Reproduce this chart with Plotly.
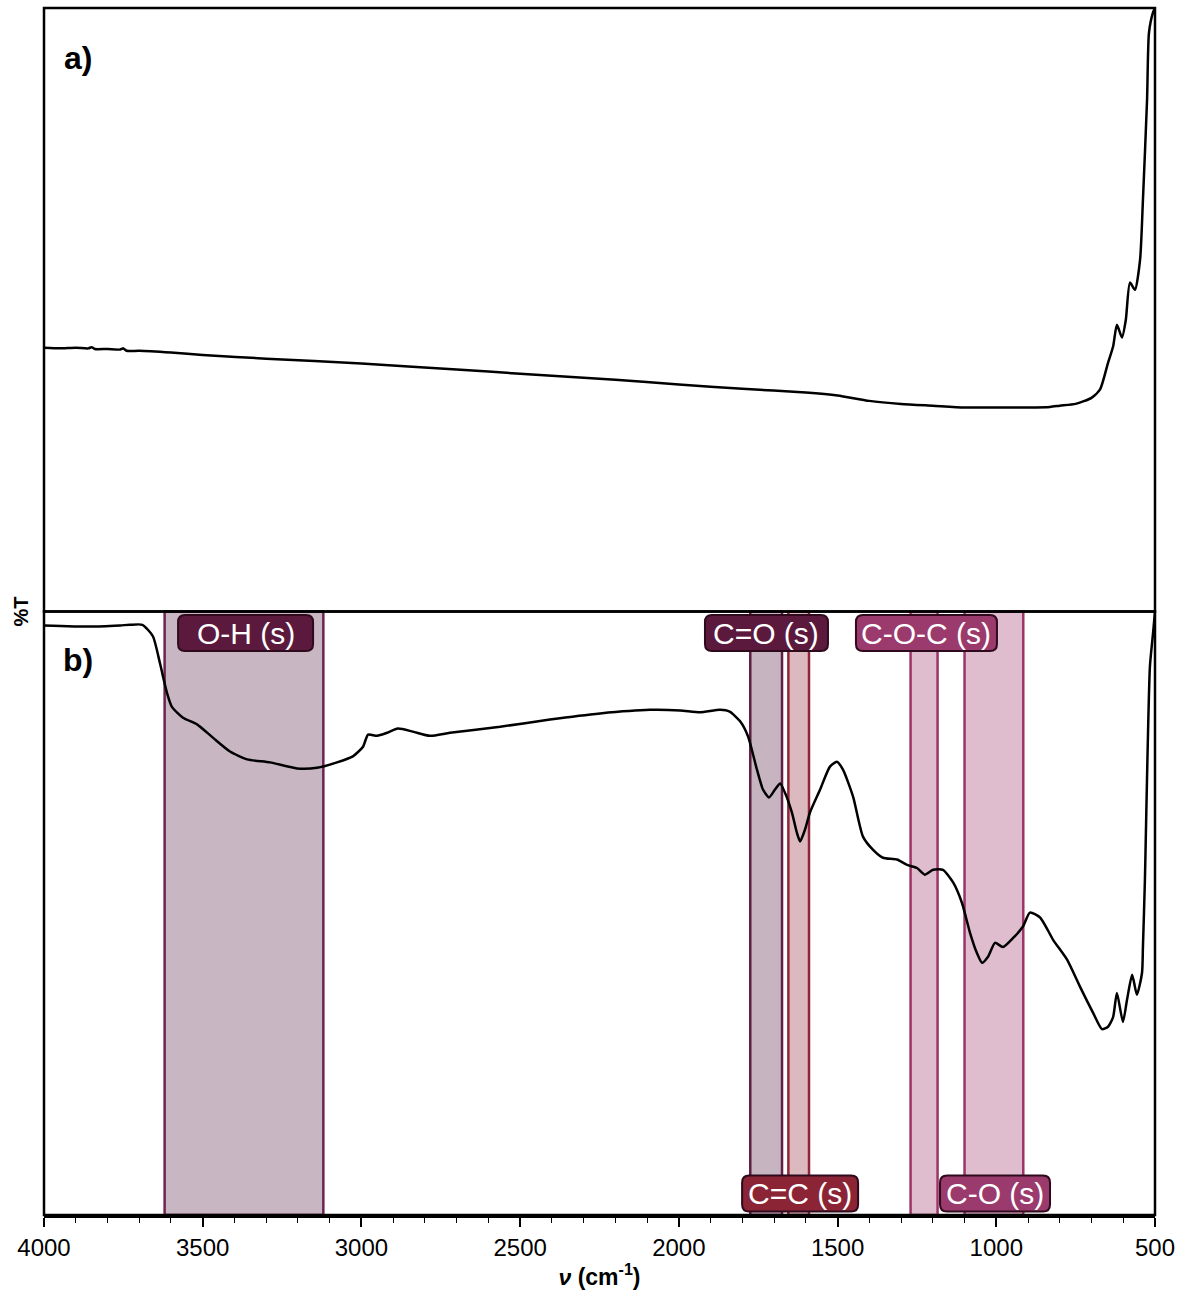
import plotly.graph_objects as go

# ---------------- data ----------------
# panel a) spectrum
wn_a = [4000, 3950, 3900, 3860, 3850, 3840, 3800, 3760, 3750, 3740, 3700, 3600, 3500, 3300, 3000,
        2700, 2500, 2200, 2000, 1800, 1600, 1500, 1400, 1300, 1200, 1100, 1000,
        900, 831, 800, 750, 700, 673, 648, 632, 620, 604, 592, 579, 563, 547,
        538, 525, 519, 506, 500]
t_a = [43.7, 43.6, 43.7, 43.6, 43.8, 43.5, 43.5, 43.4, 43.6, 43.2, 43.2, 42.9, 42.5, 41.9, 41.1,
       40.1, 39.4, 38.4, 37.6, 36.9, 36.3, 35.8, 34.9, 34.4, 34.1, 33.8, 33.8,
       33.8, 33.9, 34.1, 34.4, 35.4, 36.8, 41.2, 43.9, 47.5, 45.4, 48.3, 54.5, 53.3, 58.3,
       68.2, 84.8, 95.9, 99.3, 100.0]

# panel b) spectrum
wn_b = [4000, 3850, 3760, 3729, 3690, 3657, 3635, 3613, 3597, 3562, 3518, 3468, 3414,
        3360, 3288, 3203, 3140, 3077, 3027, 2995, 2979, 2951, 2919, 2885, 2838, 2784,
        2721, 2563, 2406, 2248, 2091, 1996, 1933, 1870, 1840, 1807, 1782, 1754, 1735,
        1716, 1697, 1681, 1666, 1644, 1628, 1618, 1603, 1587, 1555, 1524, 1502, 1483,
        1451, 1420, 1388, 1357, 1313, 1281, 1250, 1225, 1199, 1168, 1136, 1108, 1083,
        1061, 1045, 1026, 1004, 979, 947, 916, 894, 862, 821, 777, 736, 695, 667, 648,
        632, 620, 601, 588, 572, 557, 541, 538, 532, 516, 506, 500]
t_b = [97.7, 97.5, 97.7, 97.8, 97.8, 95.9, 91.5, 86.6, 84.2, 82.4, 81.3, 79.1, 76.8,
       75.5, 75.0, 74.0, 74.1, 75.0, 76.0, 77.6, 79.6, 79.4, 79.9, 80.6, 80.1, 79.4,
       79.9, 80.9, 82.1, 83.1, 83.7, 83.6, 83.3, 83.7, 83.4, 81.8, 79.3, 73.8, 70.5,
       69.2, 70.5, 71.5, 70.0, 66.7, 63.3, 61.9, 63.8, 66.7, 70.5, 74.3, 75.1, 73.8,
       69.3, 62.7, 60.5, 59.2, 58.9, 58.0, 57.5, 56.4, 57.2, 57.2, 55.1, 51.7, 46.8,
       43.4, 41.8, 42.8, 45.1, 44.4, 45.9, 47.8, 50.1, 49.3, 45.6, 42.3, 37.8, 33.5, 30.8, 31.2,
       32.8, 36.8, 32.0, 35.7, 39.8, 36.5, 40.1, 44.4, 55.1, 90.9, 96.5, 100.0]

# band assignments (wavenumber ranges)
band_names = ["O-H (s)", "C=O (s)", "C=C (s)", "C-O-C (s)", "C-O (s)"]
band_lo = [3120, 1675, 1590, 1185, 915]
band_hi = [3620, 1775, 1655, 1270, 1100]
band_fill = ["#c8b6c2", "#c6b5c1", "#dcb9bf", "#dfbdce", "#dfbdce"]
band_line = ["#6e2450", "#5e1f42", "#8e2538", "#9c3468", "#9c3468"]
label_bg = ["#5b1a3d", "#5b1a3d", "#8b2535", "#9b3a6c", "#9b3a6c"]
label_x = [3365, 1724, 1618, 1220, 1004]
label_top = [True, True, False, True, False]
label_w = [135, 123, 116, 141, 110]

x_ticks = [4000, 3500, 3000, 2500, 2000, 1500, 1000, 500]

FONT = "Liberation Sans, Arial, sans-serif"

# ---------------- figure ----------------
fig = go.Figure()

fig.add_trace(go.Scatter(x=wn_a, y=t_a, mode="lines", xaxis="x", yaxis="y2",
                         line=dict(color="black", width=2.5, shape="spline", smoothing=0.6),
                         showlegend=False, hoverinfo="skip"))
fig.add_trace(go.Scatter(x=wn_b, y=t_b, mode="lines", xaxis="x", yaxis="y",
                         line=dict(color="black", width=2.5, shape="spline", smoothing=0.6),
                         showlegend=False, hoverinfo="skip"))

shapes = []
for lo, hi, fc, lc in zip(band_lo, band_hi, band_fill, band_line):
    shapes.append(dict(type="rect", xref="x", yref="y domain", x0=hi, x1=lo, y0=0, y1=1,
                       fillcolor=fc, line=dict(color=lc, width=2.5), layer="below"))

# panel frames
shapes.append(dict(type="rect", xref="paper", yref="paper", x0=0, x1=1, y0=0.5, y1=1,
                   line=dict(color="black", width=2.5), fillcolor="rgba(0,0,0,0)"))
shapes.append(dict(type="rect", xref="paper", yref="paper", x0=0, x1=1, y0=0, y1=0.5,
                   line=dict(color="black", width=2.5), fillcolor="rgba(0,0,0,0)"))

annotations = []
plot_h = 1207.0
plot_w = 1111.0

for name, lx, top, w, bg in zip(band_names, label_x, label_top, label_w, label_bg):
    ypx = 633 if top else 1193.5
    yp = (1215 - ypx) / plot_h
    hw, hh, r = w / 2.0, 18.0, 7.0
    path = (f"M {-hw + r},{-hh} L {hw - r},{-hh} Q {hw},{-hh} {hw},{-hh + r} "
            f"L {hw},{hh - r} Q {hw},{hh} {hw - r},{hh} L {-hw + r},{hh} "
            f"Q {-hw},{hh} {-hw},{hh - r} L {-hw},{-hh + r} Q {-hw},{-hh} {-hw + r},{-hh} Z")
    shapes.append(dict(type="path", xref="x", yref="paper", xsizemode="pixel", ysizemode="pixel",
                       xanchor=lx, yanchor=yp, path=path, fillcolor=bg,
                       line=dict(color="#2e0a1c", width=2), layer="above"))
    annotations.append(dict(x=lx, y=yp, xref="x", yref="paper", text=name, showarrow=False,
                            xanchor="center", yanchor="middle",
                            font=dict(family=FONT, size=30, color="white")))

annotations.append(dict(x=(78 - 44) / plot_w, y=(1215 - 58) / plot_h, xref="paper", yref="paper",
                        text="<b>a)</b>", showarrow=False, xanchor="center", yanchor="middle",
                        font=dict(family=FONT, size=32, color="black")))
annotations.append(dict(x=(78 - 44) / plot_w, y=(1215 - 660) / plot_h, xref="paper", yref="paper",
                        text="<b>b)</b>", showarrow=False, xanchor="center", yanchor="middle",
                        font=dict(family=FONT, size=32, color="black")))
annotations.append(dict(x=-24 / plot_w, y=0.5, xref="paper", yref="paper", text="<b>%T</b>",
                        showarrow=False, xanchor="center", yanchor="middle", textangle=-90,
                        font=dict(family=FONT, size=20, color="black")))

fig.update_layout(
    width=1186, height=1300,
    margin=dict(l=44, r=31, t=8, b=85),
    paper_bgcolor="white", plot_bgcolor="white",
    shapes=shapes, annotations=annotations,
    xaxis=dict(range=[4000, 500], tickvals=x_ticks, ticks="outside", ticklen=9, tickwidth=1.5,
               tickcolor="black", showline=True, linecolor="black", linewidth=2.5,
               showgrid=False, zeroline=False,
               minor=dict(dtick=100, ticks="outside", ticklen=5, tickwidth=1.2, tickcolor="black", showgrid=False),
               tickfont=dict(family=FONT, size=24, color="black"),
               title=dict(text="<b><i>ν</i> (cm<sup>-1</sup>)</b>", standoff=10,
                          font=dict(family=FONT, size=23, color="black")),
               anchor="y"),
    yaxis=dict(domain=[0, 0.5], range=[0, 100], showticklabels=False, ticks="", showgrid=False,
               zeroline=False, showline=False),
    yaxis2=dict(domain=[0.5, 1], range=[0, 100], showticklabels=False, ticks="", showgrid=False,
                zeroline=False, showline=False, anchor="x"),
)

fig.write_html("out.html")
